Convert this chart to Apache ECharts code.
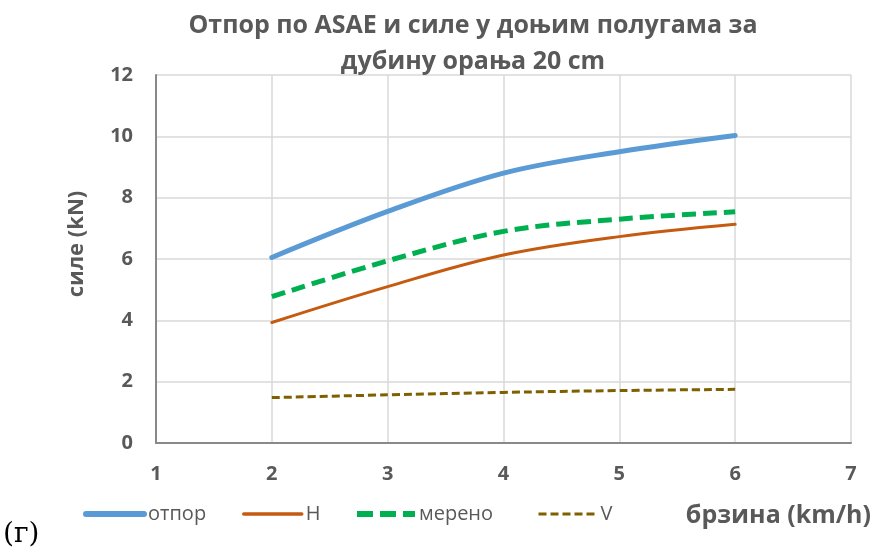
<!DOCTYPE html>
<html><head><meta charset="utf-8">
<script src="https://cdn.jsdelivr.net/npm/echarts@6/dist/echarts.min.js"></script>
<style>html,body{margin:0;padding:0;background:#fff}#c{width:875px;height:557px}</style>
</head><body><div id="c"></div>
<script>
const speeds = [2, 3, 4, 5, 6];
const otpor = [6.05, 7.55, 8.8, 9.5, 10.03];
const H = [3.93, 5.1, 6.13, 6.73, 7.13];
const mereno = [4.77, 5.94, 6.9, 7.3, 7.54];
const V = [1.48, 1.57, 1.65, 1.71, 1.75];
const seriesNames = ['отпор', 'H', 'мерено', 'V'];
const yTicks = [0, 2, 4, 6, 8, 10, 12];
const xTicks = [1, 2, 3, 4, 5, 6, 7];

const pairs = arr => speeds.map((s, i) => [s, arr[i]]);
const chart = echarts.init(document.getElementById('c'));
const font = '"Open Sans", "Noto Sans", sans-serif';
const legendLefts = [83, 242, 354, 537];
const legendWidths = [6, 3.5, 6, 3];
const legendDash = ['solid', 'solid', [16, 7], [8, 4]];
const gray = '#595959';
chart.setOption({
  animation: false,
  textStyle: { fontFamily: font },
  title: {
    text: 'Отпор по ASAE и силе у доњим полугама за\nдубину орања 20 cm',
    left: 468, textAlign: 'center', top: 3,
    textStyle: { fontSize: 25, fontWeight: 'bold', color: gray, lineHeight: 36, fontFamily: font }
  },
  legend: seriesNames.map((n, i) => ({
    left: legendLefts[i], top: 504, itemWidth: 58, itemHeight: 14, padding: 0,
    itemStyle: { opacity: 0 },
    lineStyle: { width: legendWidths[i], type: legendDash[i] },
    textStyle: { fontSize: 20, color: gray, padding: [0, 0, 0, -1], fontFamily: font },
    data: [n]
  })),
  graphic: [
    { type: 'text', left: 3, top: 521, style: { text: '(г)', font: '28px "DejaVu Serif", "Liberation Serif", serif', fill: '#000' } },
    { type: 'text', x: 77, y: 244, rotation: Math.PI / 2,
      style: { text: 'силе (kN)', font: 'bold 22px "Open Sans", "Noto Sans", sans-serif', fill: gray, align: 'center', verticalAlign: 'middle' } },
    { type: 'text', right: 4, top: 503,
      style: { text: 'брзина (km/h)', font: 'bold 25px "Open Sans", "Noto Sans", sans-serif', fill: gray } }
  ],
  grid: { left: 156, right: 24, top: 75, bottom: 114 },
  xAxis: {
    type: 'value', min: xTicks[0], max: xTicks[xTicks.length - 1], interval: 1,
    axisLine: { lineStyle: { color: '#898989', width: 2 } },
    axisTick: { show: false },
    axisLabel: { fontSize: 20, fontWeight: 'bold', color: gray, margin: 21 },
    splitLine: { show: true, lineStyle: { color: '#d9d9d9', width: 1.5 } }
  },
  yAxis: {
    type: 'value', min: yTicks[0], max: yTicks[yTicks.length - 1], interval: 2,
    axisLine: { show: true, lineStyle: { color: '#898989', width: 2 } },
    axisTick: { show: false },
    axisLabel: { fontSize: 20, fontWeight: 'bold', color: gray, margin: 23 },
    splitLine: { show: true, lineStyle: { color: '#d9d9d9', width: 1.5 } }
  },
  series: [
    { name: seriesNames[0], type: 'line', data: pairs(otpor), smooth: 0.35, showSymbol: false, symbol: 'none',
      lineStyle: { color: '#5b9bd5', width: 5, cap: 'round' }, itemStyle: { color: '#5b9bd5' } },
    { name: seriesNames[1], type: 'line', data: pairs(H), smooth: 0.35, showSymbol: false, symbol: 'none',
      lineStyle: { color: '#c55a11', width: 3, cap: 'round' }, itemStyle: { color: '#c55a11' } },
    { name: seriesNames[2], type: 'line', data: pairs(mereno), smooth: 0.35, showSymbol: false, symbol: 'none',
      lineStyle: { color: '#00b050', width: 5, type: [14, 7] }, itemStyle: { color: '#00b050' } },
    { name: seriesNames[3], type: 'line', data: pairs(V), smooth: 0.35, showSymbol: false, symbol: 'none',
      lineStyle: { color: '#7f6000', width: 3, type: [8, 4] }, itemStyle: { color: '#7f6000' } }
  ]
});
</script></body></html>
